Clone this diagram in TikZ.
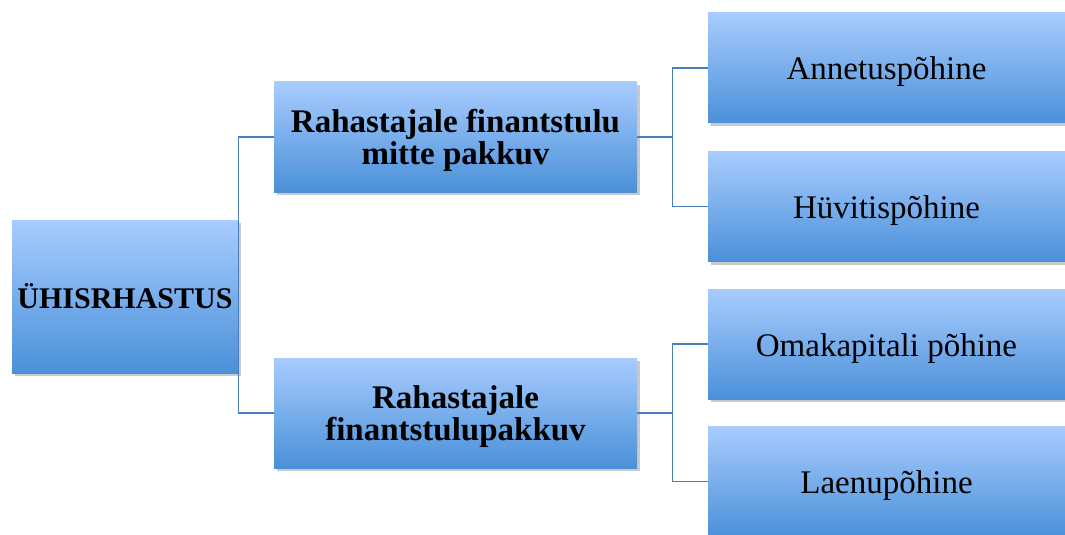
\documentclass[tikz,border=0pt]{standalone}
\usepackage{fontspec}
\setmainfont{Liberation Serif}
\usepackage{tikz}
\usetikzlibrary{positioning, shadows}
\definecolor{BoxTop}{HTML}{A8CCFE}
\definecolor{BoxBottom}{HTML}{4A90D9}
\definecolor{LinkBlue}{HTML}{4A7EBB}
\tikzset{
  catbox/.style={rectangle, top color=BoxTop, bottom color=BoxBottom, draw=none, align=center, inner sep=2pt, drop shadow={shadow xshift=2.5pt, shadow yshift=-2.5pt, opacity=0.3, fill=black!70}},
  rootbox/.style={catbox, minimum width=169.5pt, minimum height=114.75pt, font=\fontsize{22.5}{26}\selectfont\bfseries},
  midbox/.style={catbox, minimum width=272.25pt, minimum height=82.5pt, text depth=0pt, font=\fontsize{24.75}{24.5}\selectfont\bfseries},
  leafbox/.style={catbox, minimum width=267.75pt, minimum height=82.5pt, text height=18pt, text depth=0pt, font=\fontsize{24.75}{26.5}\selectfont},
  link/.style={draw=LinkBlue, line width=1.1pt}
}
\begin{document}
\begin{tikzpicture}[x=0.75pt, y=-0.75pt]
  \useasboundingbox (0,0) rectangle (1065,535);

  \node[rootbox] (root) at (125,296.5) {ÜHISRHASTUS};

  \node[midbox] (nofin) at (455.5,137) {Rahastajale finantstulu\\mitte pakkuv};
  \node[midbox] (fin) at (455.5,413) {Rahastajale\\finantstulupakkuv};

  \node[leafbox] (donation) at (886.5,68) {Annetuspõhine};
  \node[leafbox] (reward) at (886.5,206.5) {Hüvitispõhine};
  \node[leafbox] (equity) at (886.5,344) {Omakapitali põhine};
  \node[leafbox] (loan) at (886.5,481.5) {Laenupõhine};

  \coordinate[right=26.25pt of nofin.east] (forkA);
  \coordinate[right=26.25pt of fin.east] (forkB);

  \draw[link] (root.east) |- (nofin.west);
  \draw[link] (root.east) |- (fin.west);
  \draw[link] (nofin.east) -- (forkA);
  \draw[link] (forkA) |- (donation.west);
  \draw[link] (forkA) |- (reward.west);
  \draw[link] (fin.east) -- (forkB);
  \draw[link] (forkB) |- (equity.west);
  \draw[link] (forkB) |- (loan.west);
\end{tikzpicture}
\end{document}
